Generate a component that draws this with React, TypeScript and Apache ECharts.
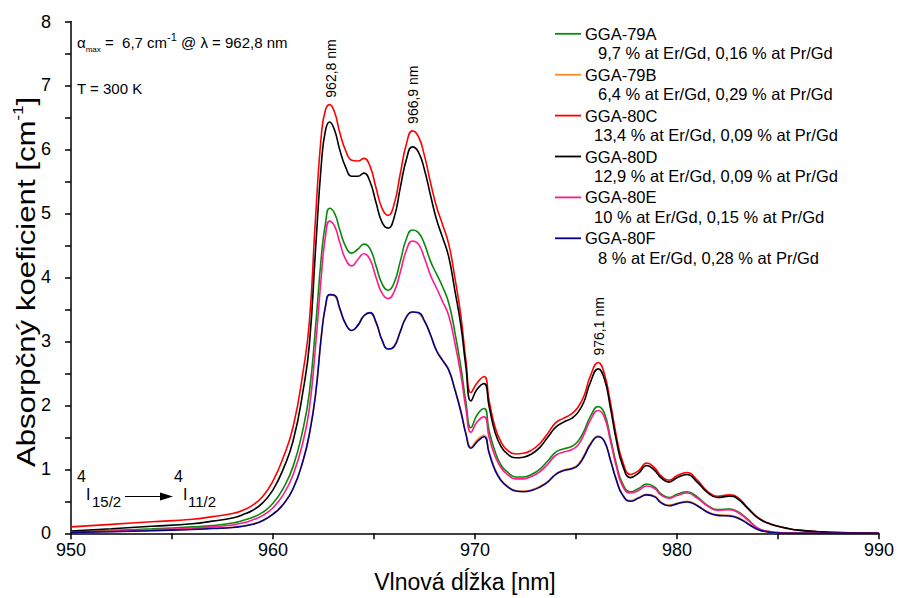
import React, { useEffect, useRef } from "react";
import * as echarts from "echarts";

// Wavelength grid shared by all spectra [nm]
const WAVELENGTH = [
  950, 952, 954, 956, 957, 958, 958.5, 959, 959.5, 960,
  960.5, 961, 961.5, 961.8, 962.1, 962.4, 962.6, 962.8, 963.05, 963.3,
  963.6, 963.9, 964.2, 964.5, 964.8, 965.1, 965.4, 965.7, 966.0, 966.3,
  966.6, 966.9, 967.2, 967.5, 967.8, 968.1, 968.4, 968.7, 969.0, 969.3,
  969.55, 969.8, 970.1, 970.45, 970.7, 971.0, 971.3, 971.6, 972.0, 972.4,
  972.8, 973.2, 973.6, 974.0, 974.4, 974.8, 975.1, 975.4, 975.7, 976.1,
  976.4, 976.7, 977.0, 977.3, 977.7, 978.1, 978.5, 978.9, 979.2, 979.6,
  980.0, 980.5, 981.0, 981.5, 982.0, 982.6, 983.0, 983.5, 984.0, 984.5,
  985.0, 985.5, 986, 987, 988, 990,
];

// Absorption coefficient [cm^-1] per sample
const GGA_79A = [
  0.025, 0.045, 0.07, 0.1, 0.12, 0.16, 0.2, 0.25, 0.33, 0.47,
  0.7, 1.05, 1.65, 2.2, 3.2, 4.35, 4.85, 5.08, 5.0, 4.75,
  4.48, 4.38, 4.44, 4.52, 4.45, 4.18, 3.9, 3.8, 3.92, 4.25,
  4.6, 4.74, 4.7, 4.52, 4.25, 4.05, 3.85, 3.6, 3.15, 2.6,
  2.05, 1.65, 1.85, 1.95, 1.6, 1.27, 1.06, 0.96, 0.88, 0.88,
  0.92, 1.0, 1.13, 1.27, 1.32, 1.36, 1.44, 1.6, 1.82, 1.98,
  1.88, 1.5, 1.08, 0.78, 0.65, 0.7, 0.77, 0.72, 0.62, 0.56,
  0.61, 0.65, 0.57, 0.44, 0.37, 0.38, 0.34, 0.22, 0.08, 0.03,
  0.01, 0.005, 0, 0, 0, 0,
];

const GGA_79B = [
  0.02, 0.03, 0.045, 0.065, 0.08, 0.095, 0.115, 0.145, 0.2, 0.3,
  0.45, 0.7, 1.15, 1.56, 2.16, 3.1, 3.55, 3.73, 3.71, 3.51,
  3.27, 3.17, 3.25, 3.4, 3.44, 3.29, 3.02, 2.88, 2.93, 3.16,
  3.38, 3.46, 3.44, 3.31, 3.1, 2.86, 2.71, 2.56, 2.26, 1.92,
  1.57, 1.35, 1.46, 1.53, 1.27, 1.0, 0.83, 0.74, 0.67, 0.66,
  0.68, 0.73, 0.81, 0.93, 0.99, 1.02, 1.08, 1.22, 1.4, 1.52,
  1.44, 1.15, 0.84, 0.61, 0.51, 0.56, 0.61, 0.58, 0.49, 0.44,
  0.47, 0.5, 0.44, 0.34, 0.29, 0.28, 0.25, 0.16, 0.06, 0.02,
  0.005, 0, 0, 0, 0, 0,
];

const GGA_80C = [
  0.1, 0.14, 0.18, 0.22, 0.26, 0.31, 0.36, 0.44, 0.58, 0.82,
  1.18, 1.67, 2.55, 3.3, 4.9, 6.25, 6.62, 6.7, 6.58, 6.27,
  5.98, 5.83, 5.82, 5.86, 5.74, 5.4, 5.08, 4.97, 5.15, 5.62,
  6.08, 6.29, 6.2, 5.9, 5.48, 5.1, 4.82, 4.52, 4.0, 3.4,
  2.7, 2.2, 2.35, 2.45, 2.07, 1.65, 1.42, 1.3, 1.24, 1.25,
  1.3, 1.4, 1.56, 1.73, 1.8, 1.87, 1.97, 2.15, 2.45, 2.67,
  2.5, 2.05, 1.52, 1.13, 0.92, 0.98, 1.1, 1.02, 0.9, 0.83,
  0.9, 0.95, 0.83, 0.66, 0.58, 0.6, 0.56, 0.4, 0.25, 0.16,
  0.11, 0.075, 0.05, 0.025, 0.01, 0,
];

const GGA_80D = [
  0.035, 0.07, 0.11, 0.15, 0.19, 0.24, 0.29, 0.36, 0.48, 0.68,
  1.0, 1.45, 2.25, 2.95, 4.4, 5.8, 6.3, 6.43, 6.3, 6.0,
  5.72, 5.58, 5.58, 5.63, 5.5, 5.17, 4.86, 4.77, 4.94, 5.4,
  5.84, 6.04, 5.96, 5.68, 5.28, 4.9, 4.62, 4.32, 3.8, 3.25,
  2.6, 2.07, 2.25, 2.34, 1.98, 1.57, 1.35, 1.24, 1.18, 1.19,
  1.24, 1.34, 1.5, 1.66, 1.74, 1.8, 1.89, 2.06, 2.35, 2.57,
  2.42, 1.97, 1.45, 1.07, 0.87, 0.94, 1.06, 0.98, 0.87, 0.8,
  0.87, 0.92, 0.8, 0.64, 0.56, 0.58, 0.54, 0.39, 0.24, 0.16,
  0.11, 0.075, 0.05, 0.025, 0.01, 0,
];

const GGA_80E = [
  0.02, 0.035, 0.055, 0.08, 0.1, 0.13, 0.16, 0.21, 0.28, 0.4,
  0.6, 0.92, 1.45, 1.95, 2.9, 4.05, 4.65, 4.88, 4.8, 4.55,
  4.28, 4.18, 4.28, 4.37, 4.28, 4.0, 3.75, 3.67, 3.78, 4.08,
  4.42, 4.57, 4.52, 4.3, 4.03, 3.83, 3.62, 3.4, 2.98, 2.48,
  1.95, 1.58, 1.74, 1.82, 1.5, 1.2, 1.02, 0.92, 0.85, 0.85,
  0.89, 0.96, 1.08, 1.22, 1.27, 1.31, 1.38, 1.55, 1.76, 1.92,
  1.82, 1.45, 1.04, 0.74, 0.63, 0.67, 0.74, 0.7, 0.6, 0.55,
  0.59, 0.63, 0.55, 0.43, 0.36, 0.37, 0.33, 0.21, 0.08, 0.03,
  0.01, 0.005, 0, 0, 0, 0,
];

const GGA_80F = [
  0.015, 0.025, 0.04, 0.06, 0.075, 0.09, 0.11, 0.14, 0.2, 0.3,
  0.45, 0.7, 1.15, 1.55, 2.15, 3.1, 3.55, 3.73, 3.72, 3.52,
  3.27, 3.17, 3.25, 3.4, 3.45, 3.3, 3.02, 2.88, 2.92, 3.15,
  3.38, 3.46, 3.45, 3.32, 3.1, 2.85, 2.7, 2.55, 2.25, 1.9,
  1.55, 1.33, 1.43, 1.51, 1.25, 0.98, 0.82, 0.73, 0.66, 0.65,
  0.67, 0.72, 0.8, 0.92, 0.98, 1.01, 1.06, 1.2, 1.38, 1.51,
  1.44, 1.15, 0.83, 0.6, 0.5, 0.55, 0.6, 0.57, 0.48, 0.43,
  0.46, 0.49, 0.43, 0.33, 0.28, 0.27, 0.24, 0.15, 0.06, 0.02,
  0.005, 0, 0, 0, 0, 0,
];

const SAMPLE_NAMES = ["GGA-79A", "GGA-79B", "GGA-80C", "GGA-80D", "GGA-80E", "GGA-80F"];
const SAMPLE_NOTES = [
  "9,7 % at Er/Gd, 0,16 % at Pr/Gd",
  "6,4 % at Er/Gd, 0,29 % at Pr/Gd",
  "13,4 % at Er/Gd, 0,09 % at Pr/Gd",
  "12,9 % at Er/Gd, 0,09 % at Pr/Gd",
  "10 % at Er/Gd, 0,15 % at Pr/Gd",
  "8 % at Er/Gd, 0,28 % at Pr/Gd",
];
const SAMPLE_VALUES = [GGA_79A, GGA_79B, GGA_80C, GGA_80D, GGA_80E, GGA_80F];

// Peaks of GGA-80C marked with their wavelength
const PEAK_NM = [962.8, 966.9, 976.1];
const PEAK_TEXT = ["962,8 nm", "966,9 nm", "976,1 nm"];

const X_TICKS = [950, 960, 970, 980, 990];
const Y_TICKS = [0, 1, 2, 3, 4, 5, 6, 7, 8];

const COLORS = ["#0a8a0a", "#ff8c1a", "#ff0000", "#000000", "#ff1a8c", "#00008b"];
const FONT = "'Liberation Sans', Arial, Helvetica, sans-serif";

function text(x: number, y: number, str: string, size: number, extra: any = {}) {
  return {
    type: "text",
    x,
    y,
    silent: true,
    ...extra,
    style: {
      text: str,
      fontSize: size,
      fontFamily: FONT,
      fill: "#000",
      textAlign: "left",
      textVerticalAlign: "middle",
      ...(extra.style || {}),
    },
  };
}

export default function App() {
  const ref = useRef<HTMLDivElement>(null);

  useEffect(() => {
    document.body.style.margin = "0";
    const chart = echarts.init(ref.current!, null, { renderer: "svg" });

    const axisCommon = {
      type: "value",
      axisLine: { show: true, onZero: false, lineStyle: { color: "#000", width: 1.5 } },
      axisTick: { show: true, inside: false, length: 6, lineStyle: { color: "#000", width: 1.5 } },
      minorTick: { show: true, splitNumber: 2, length: 6, lineStyle: { color: "#000", width: 1.5 } },
      splitLine: { show: false },
      minorSplitLine: { show: false },
    };

    chart.setOption({
      animation: false,
      backgroundColor: "#fff",
      grid: { left: 71, right: 19, top: 21.5, bottom: 64.7 },
      xAxis: {
        ...axisCommon,
        min: X_TICKS[0],
        max: X_TICKS[X_TICKS.length - 1],
        interval: X_TICKS[1] - X_TICKS[0],
        axisLabel: { fontSize: 18, color: "#000", fontFamily: FONT, margin: 8 },
      },
      yAxis: {
        ...axisCommon,
        min: Y_TICKS[0],
        max: Y_TICKS[Y_TICKS.length - 1],
        interval: Y_TICKS[1] - Y_TICKS[0],
        axisLabel: { fontSize: 18, color: "#000", fontFamily: FONT, margin: 20 },
      },
      series: SAMPLE_NAMES.map((name, k) => ({
        name,
        type: "line",
        showSymbol: false,
        symbol: "none",
        smooth: 0.5,
        lineStyle: { color: COLORS[k], width: 1.6 },
        data: WAVELENGTH.map((w, i) => [w, SAMPLE_VALUES[k][i]]),
      })),
    });

    const graphics: any[] = [];

    // Legend with sample compositions
    SAMPLE_NAMES.forEach((name, k) => {
      const y = 33.8 + k * 40.9;
      const noteX = [598, 598, 594, 594, 594, 598][k];
      graphics.push({
        type: "line",
        silent: true,
        shape: { x1: 555, y1: y, x2: 581, y2: y },
        style: { stroke: COLORS[k], lineWidth: 1.8 },
      });
      graphics.push(text(585, y, name, 16.5));
      graphics.push(text(noteX, y + 19.5, SAMPLE_NOTES[k], 16.5));
    });

    // Annotations in the upper-left corner
    graphics.push(
      text(77, 42, "{a|α}{s|max}{a| =  6,7 cm}{p|-1}{a| @ λ = 962,8 nm}", 15, {
        style: {
          rich: {
            a: { fontSize: 15, fontFamily: FONT, lineHeight: 22, verticalAlign: "middle" },
            s: { fontSize: 8, fontFamily: FONT, lineHeight: 13, verticalAlign: "bottom" },
            p: { fontSize: 11, fontFamily: FONT, lineHeight: 11, verticalAlign: "top" },
          },
        },
      })
    );
    graphics.push(text(77, 88, "T = 300 K", 15));

    // Transition 4I15/2 -> 4I11/2
    graphics.push(text(77, 476, "4", 16));
    graphics.push(text(86, 494, "I", 16));
    graphics.push(text(92, 501.5, "15/2", 15));
    graphics.push({
      type: "line",
      silent: true,
      shape: { x1: 125, y1: 496.5, x2: 162, y2: 496.5 },
      style: { stroke: "#000", lineWidth: 1 },
    });
    graphics.push({
      type: "polygon",
      silent: true,
      shape: { points: [[160, 492.5], [173, 496.5], [160, 500.5]] },
      style: { fill: "#000" },
    });
    graphics.push(text(174, 476, "4", 16));
    graphics.push(text(183, 494, "I", 16));
    graphics.push(text(188, 501.5, "11/2", 15));

    // Axis titles
    graphics.push(
      text(465, 582, "Vlnová dĺžka [nm]", 23, { style: { textAlign: "center" } })
    );
    graphics.push(
      text(26, 282, "{m|Absorpčný koeficient [cm}{p|-1}{m|]}", 26, {
        rotation: Math.PI / 2,
        scaleX: 1.2,
        style: {
          textAlign: "center",
          rich: {
            m: { fontSize: 26, fontFamily: FONT, lineHeight: 30, verticalAlign: "middle" },
            p: { fontSize: 14, fontFamily: FONT, lineHeight: 14, verticalAlign: "top" },
          },
        },
      })
    );

    // Wavelength labels above GGA-80C peaks
    PEAK_NM.forEach((nm, k) => {
      const i = WAVELENGTH.indexOf(nm);
      const [px, py] = chart.convertToPixel({ gridIndex: 0 }, [nm, GGA_80C[i]]) as number[];
      graphics.push(
        text(px + 1, py - 7, PEAK_TEXT[k], 14, { rotation: Math.PI / 2 })
      );
    });

    chart.setOption({ graphic: graphics });

    return () => chart.dispose();
  }, []);

  return <div ref={ref} style={{ width: 898, height: 598 }} />;
}
